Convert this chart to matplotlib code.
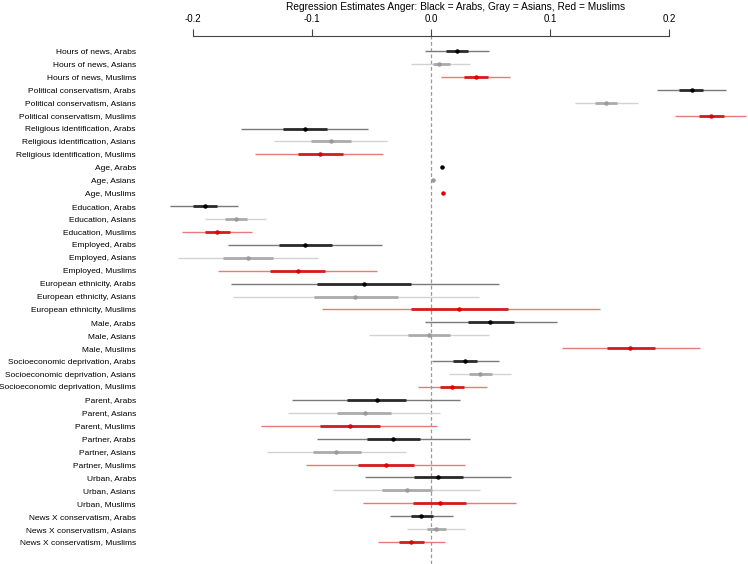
import numpy as np
import matplotlib.pyplot as plt

plt.rcParams['font.family'] = ['Liberation Sans', 'DejaVu Sans']

# Data
variables = ["Hours of news", "Political conservatism", "Religious identification",
             "Age", "Education", "Employed", "European ethnicity", "Male",
             "Socioeconomic deprivation", "Parent", "Partner", "Urban",
             "News X conservatism"]
groups = ["Arabs", "Asians", "Muslims"]

est = [0.0217, 0.0068, 0.0377,
       0.219, 0.147, 0.235,
       -0.106, -0.0842, -0.093,
       0.0096, 0.002, 0.010,
       -0.190, -0.164, -0.1796,
       -0.106, -0.1536, -0.112,
       -0.0561, -0.0638, 0.0237,
       0.050, -0.0016, 0.1676,
       0.0285, 0.0413, 0.0176,
       -0.0457, -0.0557, -0.0682,
       -0.0317, -0.0794, -0.038,
       0.006, -0.020, 0.0072,
       -0.008, 0.0044, -0.0164]
lo_outer = [-0.005, -0.017, 0.0084,
            0.190, 0.1207, 0.205,
            -0.1596, -0.1315, -0.1476,
            0.0080, 0.0005, 0.0085,
            -0.219, -0.1897, -0.209,
            -0.1708, -0.2125, -0.179,
            -0.168, -0.1664, -0.0918,
            -0.0048, -0.052, 0.1103,
            0.0008, 0.0152, -0.0112,
            -0.1167, -0.1203, -0.1427,
            -0.0954, -0.1375, -0.105,
            -0.0553, -0.0826, -0.0573,
            -0.0345, -0.020, -0.0449]
hi_outer = [0.0485, 0.0325, 0.066,
            0.248, 0.174, 0.265,
            -0.0533, -0.0369, -0.0405,
            0.0112, 0.0035, 0.0115,
            -0.162, -0.1383, -0.150,
            -0.0413, -0.0946, -0.0453,
            0.0569, 0.040, 0.1423,
            0.1059, 0.0485, 0.2257,
            0.0569, 0.067, 0.0473,
            0.024, 0.008, 0.0052,
            0.0325, -0.0208, 0.0285,
            0.067, 0.0413, 0.0714,
            0.0188, 0.0285, 0.0116]
lo_inner = [0.0124, 0.0016, 0.0277,
            0.208, 0.138, 0.225,
            -0.124, -0.1006, -0.1115,
            0.0088, 0.0012, 0.0092,
            -0.200, -0.1728, -0.190,
            -0.128, -0.1744, -0.135,
            -0.0954, -0.0986, -0.0172,
            0.0313, -0.0192, 0.1476,
            0.0188, 0.032, 0.0072,
            -0.0706, -0.0786, -0.0934,
            -0.0541, -0.0994, -0.0617,
            -0.0144, -0.0409, -0.0148,
            -0.0172, -0.0036, -0.0265]
hi_inner = [0.031, 0.0156, 0.0477,
            0.229, 0.156, 0.246,
            -0.087, -0.0674, -0.0742,
            0.0104, 0.0028, 0.0108,
            -0.180, -0.1548, -0.169,
            -0.0834, -0.1327, -0.089,
            -0.0172, -0.028, 0.0646,
            0.0694, 0.0156, 0.188,
            0.0385, 0.051, 0.0277,
            -0.0208, -0.0333, -0.0425,
            -0.0096, -0.0589, -0.0144,
            0.0273, 0.0008, 0.0297,
            0.0016, 0.0128, -0.006]

labels = [f"{v}, {g}" for v in variables for g in groups]
colors = {"Arabs": ("#7a7a7a", "#2a2a2a", "black"),
          "Asians": ("#d2d2d2", "#ababab", "#9a9a9a"),
          "Muslims": ("#e87a7a", "#d41c1c", "#e00000")}

fig = plt.figure(figsize=(7.48, 5.64), dpi=100)
ax = fig.add_axes([165 / 748, 0, (748 - 165) / 748, (564 - 36) / 564])

y = np.arange(1, len(labels) + 1)
ax.axvline(0, color="#999999", ls=(0, (3, 2)), lw=0.9, zorder=0)
for i, lab in enumerate(labels):
    g = groups[i % 3]
    c_out, c_in, c_pt = colors[g]
    ax.hlines(y[i], lo_outer[i], hi_outer[i], color=c_out, lw=1.0)
    ax.hlines(y[i], lo_inner[i], hi_inner[i], color=c_in, lw=2.0)
    ax.plot(est[i], y[i], "o", color=c_pt, ms=3.2, mew=0)

ax.set_xlim(-0.2235, 0.2664)
ax.set_ylim(40.70, -0.161)
ax.set_yticks(y)
ax.set_yticklabels(labels, fontsize=6.0)
ax.tick_params(axis="y", length=0, pad=21)
ax.xaxis.tick_top()
ax.set_xticks([-0.2, -0.1, 0.0, 0.1, 0.2])
ax.set_xticklabels(["-0.2", "-0.1", "0.0", "0.1", "0.2"], fontsize=7)
ax.tick_params(axis="x", length=5, width=0.8, pad=4, color="#444444")
for s in ["left", "right", "bottom"]:
    ax.spines[s].set_visible(False)
ax.spines["top"].set_bounds(-0.2, 0.2)
ax.spines["top"].set_color("#444444")
ax.spines["top"].set_linewidth(0.8)

fig.text(456 / 748, 1 - 7 / 564,
         "Regression Estimates Anger: Black = Arabs, Gray = Asians, Red = Muslims",
         ha="center", va="center", fontsize=7.3)

fig.savefig("out.png", dpi=100)
